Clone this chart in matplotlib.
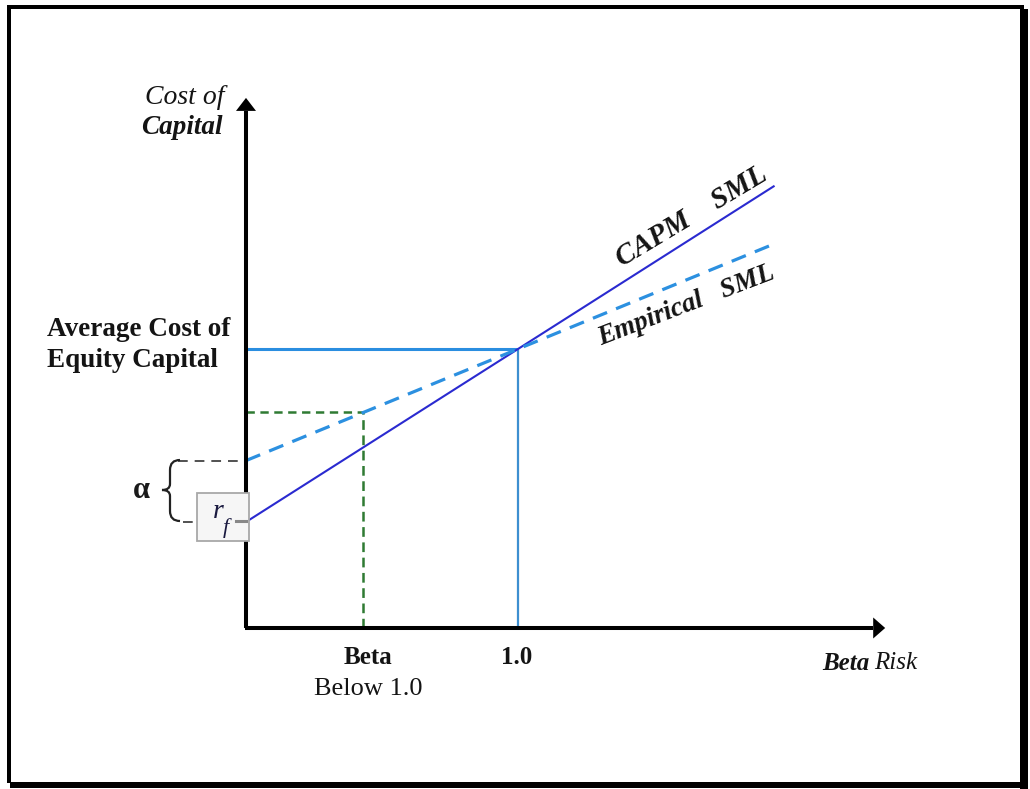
import matplotlib
matplotlib.use("Agg")
import matplotlib.pyplot as plt
from matplotlib.patches import Rectangle, PathPatch
from matplotlib.path import Path

plt.rcParams['lines.scale_dashes'] = False

# ---------------- data ----------------
risk_free = 3.8            # r_f
empirical_intercept = 6.0  # r_f + alpha
market_cost = 10.0         # average cost of equity capital at beta = 1.0
beta_below = 0.43
beta_one = 1.0

capm_beta = [0.0, 1.0, 1.94]
capm_cost = [3.8, 10.0, 15.83]
emp_beta = [0.0, 1.0, 1.94]
emp_cost = [6.0, 10.0, 13.76]
emp_cost_below = 7.75

x_axis_end = 2.35
y_axis_end = 19.0

SERIF = "Liberation Serif"

W, H = 1030, 789
fig = plt.figure(figsize=(W / 100, H / 100), dpi=100)
fig.patch.set_facecolor("white")

ax = fig.add_axes([0, 0, 1, 1])
ax.set_xlim(-0.9044, 2.8824)
ax.set_ylim(-5.771, 22.509)
ax.axis("off")


def fp(x, y):
    return (x / W, 1 - y / H)


def frect(x0, y0, x1, y1):
    a = fp(x0, y1)
    fig.patches.append(Rectangle(a, (x1 - x0) / W, (y1 - y0) / H,
                                 transform=fig.transFigure, facecolor="black",
                                 edgecolor="none", zorder=10))

frect(7, 5, 1024, 9)
frect(7, 5, 11, 783)
frect(1020, 9, 1028, 789)
frect(10, 782, 1028, 788)

axis_lw = 2.9
ax.plot([-0.004, x_axis_end - 0.045], [0, 0], color="black", lw=axis_lw,
        solid_capstyle="butt", zorder=5)
ax.plot([0, 0], [0.0, y_axis_end - 0.47], color="black", lw=axis_lw,
        solid_capstyle="butt", zorder=5)
xh_len = 12 / 272
xh_w = 21 / 27.9
ax.fill([x_axis_end - xh_len, x_axis_end, x_axis_end - xh_len],
        [xh_w / 2, 0, -xh_w / 2], color="black", zorder=6, lw=0)
yh_len = 13 / 27.9
yh_w = 20 / 272
ax.fill([-yh_w / 2, 0, yh_w / 2],
        [y_axis_end - yh_len, y_axis_end, y_axis_end - yh_len],
        color="black", zorder=6, lw=0)

blue_guide = "#2a8ee0"
ax.plot([0, beta_one], [market_cost, market_cost], color=blue_guide, lw=2.2,
        solid_capstyle="butt", zorder=3)
ax.plot([beta_one, beta_one], [0, market_cost], color="#3d8fd0", lw=1.6,
        solid_capstyle="butt", zorder=3)

green = "#2f7a33"
ax.plot([0, beta_below], [emp_cost_below, emp_cost_below], color=green, lw=1.8,
        linestyle=(0, (6, 4)), zorder=3)
ax.plot([beta_below, beta_below], [0, emp_cost_below], color=green, lw=1.8,
        linestyle=(0, (7, 4)), zorder=3)

ax.plot([-0.25, 0], [empirical_intercept, empirical_intercept], color="#333333",
        lw=1.2, linestyle=(0, (7, 5)), zorder=3)
ax.plot([-0.232, 0], [risk_free, risk_free], color="#333333",
        lw=1.2, linestyle=(0, (7, 5)), zorder=3)

ax.plot(capm_beta, capm_cost, color="#2a2ad0", lw=1.5, zorder=4)
ax.plot(emp_beta, emp_cost, color="#2c90e0", lw=2.3,
        linestyle=(0, (11, 7)), zorder=4)

bx0, by0, bx1, by1 = 197, 493, 249, 541
fig.patches.append(Rectangle(fp(bx0, by1), (bx1 - bx0) / W, (by1 - by0) / H,
                             transform=fig.transFigure, facecolor="#f6f6f6",
                             edgecolor="#a8a8a8", lw=1.3, zorder=7))
fig.lines.append(plt.Line2D([236 / W, 246 / W], [1 - 521 / H, 1 - 521 / H],
                            transform=fig.transFigure, color="#888888", lw=2.2,
                            zorder=8))
fig.text(*fp(218, 518), "r", family=SERIF, style="italic", fontsize=20,
         color="#1a1a40", ha="center", va="baseline", zorder=9)
fig.text(*fp(226, 533), "f", family=SERIF, style="italic", fontsize=16,
         color="#1a1a40", ha="center", va="baseline", zorder=9)


def bp(x, y):
    return fig.transFigure.transform(fp(x, y))

pts = [(180, 460), (170, 460), (170, 470), (170, 480), (170, 484),
       (170, 490), (162, 490), (170, 490), (170, 496), (170, 500),
       (170, 511), (170, 521), (180, 521)]
codes = [Path.MOVETO, Path.CURVE3, Path.CURVE3, Path.LINETO, Path.LINETO,
         Path.CURVE3, Path.CURVE3, Path.CURVE3, Path.CURVE3, Path.LINETO,
         Path.LINETO, Path.CURVE3, Path.CURVE3]
brace = Path([bp(x, y) for x, y in pts], codes)
fig.patches.append(PathPatch(brace, transform=None, facecolor="none",
                             edgecolor="#222222", lw=1.6, zorder=8))
fig.text(*fp(141, 490), "α", family=SERIF, fontsize=22, fontweight="bold",
         ha="center", va="center", color="#1a1a1a")

TXT = "#141414"
fig.text(*fp(185, 97), "Cost of", family=SERIF, style="italic", fontsize=20,
         ha="center", va="center", color=TXT)
fig.text(*fp(182, 128), "Capital", family=SERIF, style="italic",
         fontweight="bold", fontsize=19.5, ha="center", va="center", color=TXT)

fig.text(*fp(47, 329), "Average Cost of", family=SERIF, fontweight="bold",
         fontsize=19.5, ha="left", va="center", color=TXT)
fig.text(*fp(47, 361), "Equity Capital", family=SERIF, fontweight="bold",
         fontsize=19.5, ha="left", va="center", color=TXT)

fig.text(*fp(368, 657), "Beta", family=SERIF, fontweight="bold",
         fontsize=18, ha="center", va="center", color=TXT)
fig.text(*fp(368, 689), "Below 1.0", family=SERIF, fontsize=19,
         ha="center", va="center", color=TXT)
fig.text(*fp(517, 657), "1.0", family=SERIF, fontweight="bold",
         fontsize=18, ha="center", va="center", color=TXT)

fig.text(*fp(822, 663), "Beta", family=SERIF, fontweight="bold",
         style="italic", fontsize=18, ha="left", va="center", color=TXT)
fig.text(*fp(874, 663), "Risk", family=SERIF, style="italic", fontsize=18,
         ha="left", va="center", color=TXT)

fig.text(*fp(692, 216), "CAPM    SML", family=SERIF, fontweight="bold",
         style="italic", fontsize=21, rotation=31, rotation_mode="anchor",
         ha="center", va="center", color=TXT)
fig.text(*fp(686, 306), "Empirical   SML", family=SERIF, fontweight="bold",
         style="italic", fontsize=19.5, rotation=21, rotation_mode="anchor",
         ha="center", va="center", color=TXT)

fig.savefig("out.png", dpi=100, facecolor="white")
